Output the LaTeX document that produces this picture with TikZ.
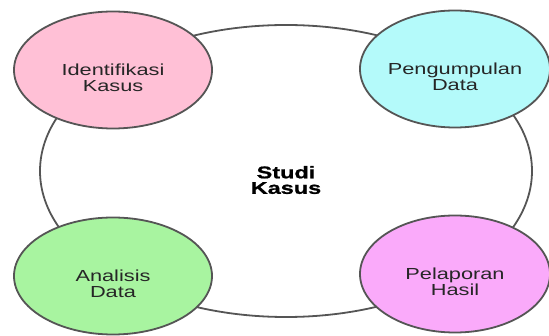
\documentclass[tikz,border=0pt]{standalone}
\usepackage{fontspec}
\setmainfont{Liberation Sans}
\newfontfamily\etiqfont[FakeStretch=1.36]{Liberation Sans}
\newfontfamily\titrefont[FakeStretch=1.38,FakeBold=1]{Liberation Sans Bold}
\usetikzlibrary{shapes.geometric}
\definecolor{rose}{RGB}{255,192,214}
\definecolor{bleuclair}{RGB}{180,250,250}
\definecolor{vertclair}{RGB}{168,244,160}
\definecolor{mauve}{RGB}{250,170,250}
\definecolor{contour}{RGB}{85,85,85}

\begin{document}
\begin{tikzpicture}[x=1pt,y=-1pt]
% Styles
 \tikzstyle{bulle}=[ellipse,draw=contour,line width=1.8pt,minimum width=198pt,minimum height=117pt,inner sep=0pt]
 \tikzstyle{texte}=[align=center,text=black!85,font={\etiqfont\fontsize{16}{15.5}\selectfont},yshift=-8pt]
 \useasboundingbox[fill=white] (0,0) rectangle (549,336);
% Grand cercle
 \node[ellipse,draw=contour,line width=1.8pt,fill=white,minimum width=492pt,minimum height=292pt] (cycle) at (286,171) {};
 \node[align=center,font={\titrefont\fontsize{17}{15.5}\selectfont}] (studi) at (286,180) {Studi\\Kasus};
% Etapes
 \node[bulle,fill=rose,label={[texte,name=t1]center:Identifikasi\\Kasus}] (identif) at (113,70) {};
 \node[bulle,fill=bleuclair,minimum width=190pt,label={[texte,name=t2]center:Pengumpulan\\Data}] (collecte) at (455,69) {};
 \node[bulle,fill=vertclair,label={[texte,name=t3]center:Analisis\\Data}] (analyse) at (113,276) {};
 \node[bulle,fill=mauve,minimum width=190pt,label={[texte,name=t4]center:Pelaporan\\Hasil}] (rapport) at (455,274) {};
\end{tikzpicture}
\end{document}
